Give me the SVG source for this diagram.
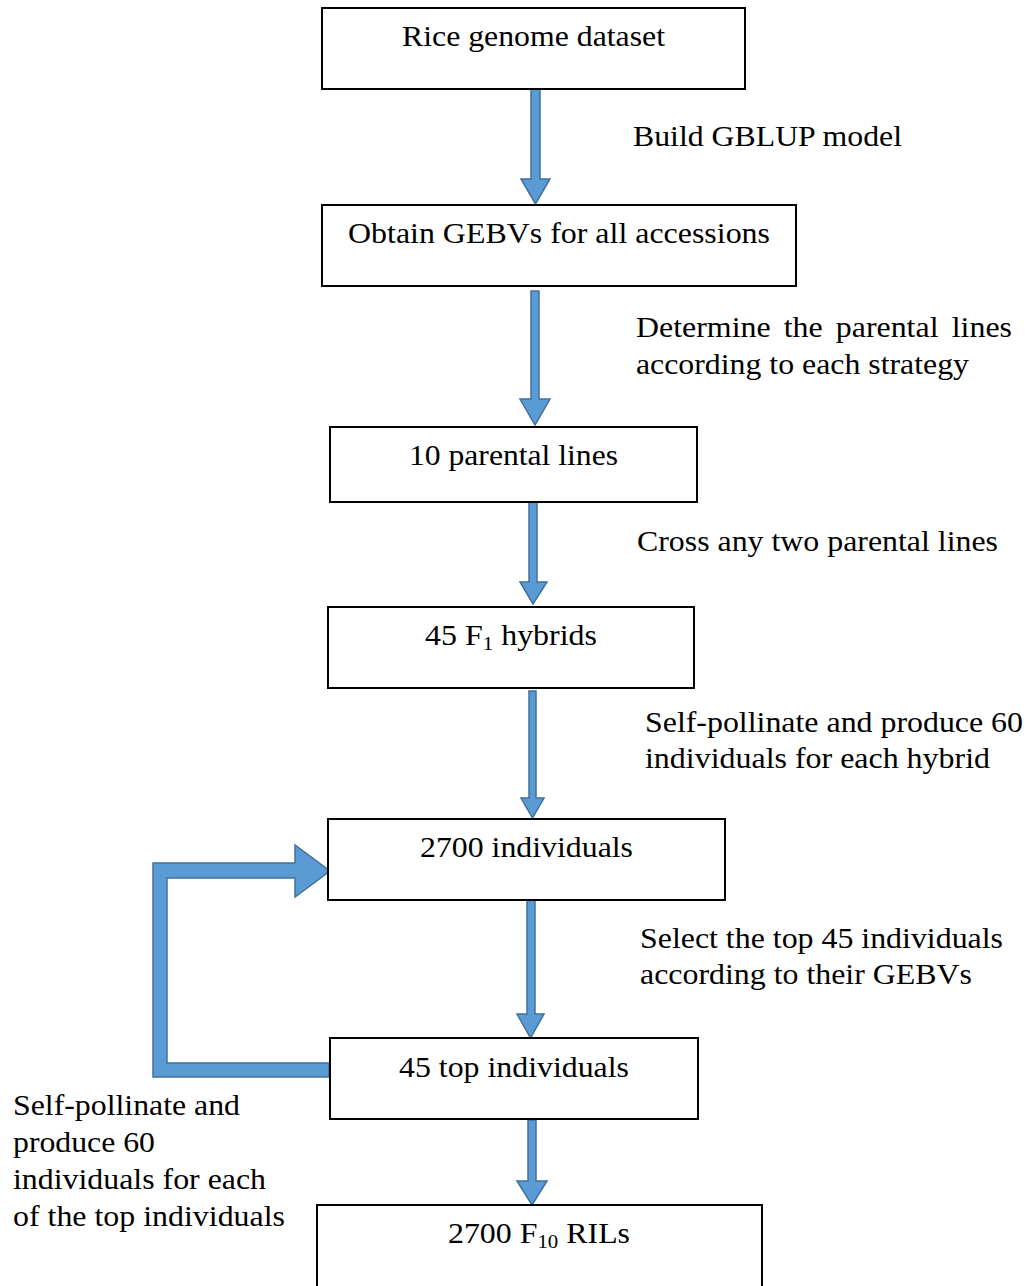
<svg xmlns="http://www.w3.org/2000/svg" width="1028" height="1286" viewBox="0 0 1028 1286">
<style>
.box{fill:#fff;stroke:#000;stroke-width:2}
.arr{fill:#5B9BD5;stroke:#41719C;stroke-width:1.5;stroke-linejoin:miter}
text{font-family:"Liberation Serif","Times New Roman",serif;font-size:29px;fill:#000}
.c{text-anchor:middle}
</style>
<rect width="1028" height="1286" fill="#fff"/>
<g id="connectors">
<path class="arr" d="M531,89 H540 V179 H550 L535.5,204 L521,179 H531 Z"/>
<path class="arr" d="M531,291 H539 V399 H550 L535,425 L520,399 H531 Z"/>
<path class="arr" d="M529,502 H537 V582 H547 L533,604 L520,582 H529 Z"/>
<path class="arr" d="M529,691 H536 V798 H544 L532.5,818 L521,798 H529 Z"/>
<path class="arr" d="M527,900 H535 V1014 H544 L530.5,1038 L517,1014 H527 Z"/>
<path class="arr" d="M528,1120 H536 V1181 H547 L532,1205 L517,1181 H528 Z"/>
<path class="arr" d="M329,1063 V1077 H153 V863 H295 V845 L330,871 L295,897 V878 H167 V1063 Z"/>
</g>
<g id="n1"><rect class="box" x="322" y="8" width="423" height="81"/><text class="c" x="533.5" y="46" textLength="263" lengthAdjust="spacingAndGlyphs">Rice genome dataset</text></g>
<g id="n2"><rect class="box" x="322" y="205" width="474" height="81"/><text class="c" x="559" y="243" textLength="422" lengthAdjust="spacingAndGlyphs">Obtain GEBVs for all accessions</text></g>
<g id="n3"><rect class="box" x="330" y="427" width="367" height="75"/><text class="c" x="513.5" y="465" textLength="209" lengthAdjust="spacingAndGlyphs">10 parental lines</text></g>
<g id="n4"><rect class="box" x="328" y="607" width="366" height="81"/><text class="c" x="511" y="645" textLength="172" lengthAdjust="spacingAndGlyphs">45 F<tspan font-size="19" dy="5">1</tspan><tspan dy="-5"> hybrids</tspan></text></g>
<g id="n5"><rect class="box" x="328" y="819" width="397" height="81"/><text class="c" x="526.5" y="857" textLength="213" lengthAdjust="spacingAndGlyphs">2700 individuals</text></g>
<g id="n6"><rect class="box" x="330" y="1038" width="368" height="81"/><text class="c" x="514" y="1077" textLength="230" lengthAdjust="spacingAndGlyphs">45 top individuals</text></g>
<g id="n7"><rect class="box" x="317" y="1205" width="445" height="90"/><text class="c" x="539" y="1243" textLength="182" lengthAdjust="spacingAndGlyphs">2700 F<tspan font-size="19" dy="5">10</tspan><tspan dy="-5"> RILs</tspan></text></g>
<g id="labels">
<text x="633" y="146" textLength="269" lengthAdjust="spacingAndGlyphs">Build GBLUP model</text>
<text x="636" y="337" textLength="134.6" lengthAdjust="spacingAndGlyphs">Determine</text>
<text x="783.7" y="337" textLength="39" lengthAdjust="spacingAndGlyphs">the</text>
<text x="835.8" y="337" textLength="102.7" lengthAdjust="spacingAndGlyphs">parental</text>
<text x="951.7" y="337" textLength="60.3" lengthAdjust="spacingAndGlyphs">lines</text>
<text x="636" y="374" textLength="333" lengthAdjust="spacingAndGlyphs">according to each strategy</text>
<text x="637" y="551" textLength="361" lengthAdjust="spacingAndGlyphs">Cross any two parental lines</text>
<text x="645" y="732" textLength="378" lengthAdjust="spacingAndGlyphs">Self-pollinate and produce 60</text>
<text x="645" y="768" textLength="345" lengthAdjust="spacingAndGlyphs">individuals for each hybrid</text>
<text x="640" y="948" textLength="363" lengthAdjust="spacingAndGlyphs">Select the top 45 individuals</text>
<text x="640" y="984" textLength="332" lengthAdjust="spacingAndGlyphs">according to their GEBVs</text>
<text x="13" y="1115" textLength="227" lengthAdjust="spacingAndGlyphs">Self-pollinate and</text>
<text x="13" y="1152" textLength="142" lengthAdjust="spacingAndGlyphs">produce 60</text>
<text x="13" y="1189" textLength="253" lengthAdjust="spacingAndGlyphs">individuals for each</text>
<text x="13" y="1226" textLength="272" lengthAdjust="spacingAndGlyphs">of the top individuals</text>
</g>
</svg>
